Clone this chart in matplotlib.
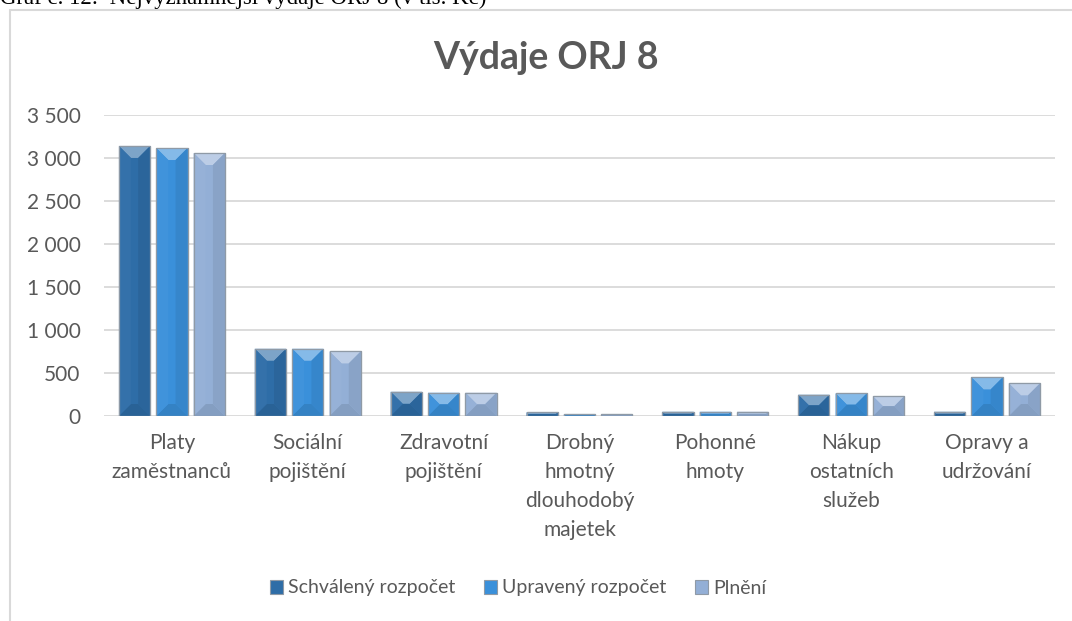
import matplotlib
matplotlib.use("Agg")
import matplotlib.pyplot as plt
from matplotlib.patches import Polygon, Rectangle, Patch
from matplotlib.colors import to_rgb
import numpy as np

categories = ["Platy\nzaměstnanců", "Sociální\npojištění", "Zdravotní\npojištění",
              "Drobný\nhmotný\ndlouhodobý\nmajetek", "Pohonné\nhmoty",
              "Nákup\nostatních\nslužeb", "Opravy a\nudržování"]
schvaleny = [3140, 782, 282, 43, 50, 248, 50]
upraveny = [3116, 782, 271, 20, 50, 263, 449]
plneni = [3058, 751, 271, 20, 50, 229, 380]
series_names = ["Schválený rozpočet", "Upravený rozpočet", "Plnění"]
yticks = [0, 500, 1000, 1500, 2000, 2500, 3000, 3500]

colors = ["#2E6DA7", "#3A90DA", "#93AFD6"]
text_gray = "#595959"
font = ["Lato", "DejaVu Sans"]


def mix(c, target, t):
    c = np.array(to_rgb(c))
    return tuple(c + (np.array(to_rgb(target)) - c) * t)


fig = plt.figure(figsize=(10.72, 6.21), dpi=100)
W, H = 1072, 621

# frame of the chart object and the caption cut by the top edge
fig.patches.append(Rectangle((10 / W, -0.2), 1.2, 1.2 - 10 / H,
                             transform=fig.transFigure, fill=False,
                             edgecolor="#d9d9d9", linewidth=1.5))
fig.text(0.0, 1 - 4 / H, "Graf č. 12:  Nejvýznamnější výdaje ORJ 8 (v tis. Kč)",
         family="Liberation Serif", fontsize=16.5, va="baseline", ha="left", color="black")

ax = fig.add_axes([104 / W, 1 - 416 / H, (1055 - 104) / W, (416 - 115) / H])
x = np.arange(len(categories))
bw = 0.23
gap = 0.045
ax.set_xlim(-0.5, len(categories) - 0.5)
ax.set_ylim(0, 3500)

px_x = 1.0 / 135.9
px_y = 3500 / 301.0
edge = "#8f9aa6"

for i, (vals, col) in enumerate(zip([schvaleny, upraveny, plneni], colors)):
    offs = (i - 1) * (bw + gap)
    bars = ax.bar(x + offs, vals, bw, color=col, edgecolor=edge, linewidth=0.8, zorder=3)
    for b in bars:
        x0, w, h = b.get_x(), b.get_width(), b.get_height()
        x1 = x0 + w
        d_px = min(12, h / px_y / 2)
        dx, dy = d_px * px_x, d_px * px_y
        top = [(x0, h), (x1, h), (x1 - dx, h - dy), (x0 + dx, h - dy)]
        bot = [(x0, 0), (x1, 0), (x1 - dx, dy), (x0 + dx, dy)]
        left = [(x0, 0), (x0, h), (x0 + dx, h - dy), (x0 + dx, dy)]
        right = [(x1, 0), (x1, h), (x1 - dx, h - dy), (x1 - dx, dy)]
        for poly, c in [(top, mix(col, "white", 0.38)), (bot, mix(col, "black", 0.1)),
                        (left, mix(col, "white", 0.03)), (right, mix(col, "black", 0.07))]:
            ax.add_patch(Polygon(poly, closed=True, facecolor=c, edgecolor="none", zorder=4))
        ax.add_patch(Rectangle((x0, 0), w, h, fill=False, edgecolor=edge,
                               linewidth=0.9, zorder=5))

ax.set_yticks(yticks)
ax.set_yticklabels([f"{v:,}".replace(",", " ") for v in yticks])
ax.set_xticks(x)
ax.set_xticklabels(categories, linespacing=1.56)
ax.yaxis.grid(True, color="#d9d9d9", linewidth=1.3, zorder=0)
ax.set_axisbelow(True)
for s in ax.spines.values():
    s.set_visible(False)
ax.tick_params(axis="both", length=0, labelsize=15, colors=text_gray)
ax.tick_params(axis="y", pad=17)
ax.tick_params(axis="x", pad=12.5)
for lab in ax.get_xticklabels() + ax.get_yticklabels():
    lab.set_family(font)
    lab.set_color(text_gray)

fig.text(546 / W, 1 - 58 / H, "Výdaje ORJ 8", family=font, fontweight="bold",
         fontsize=27, color=text_gray, ha="center", va="center")

handles = [Patch(facecolor=c, edgecolor=edge, linewidth=0.8) for c in colors]
fig.legend(handles, series_names, loc="center", bbox_to_anchor=(518 / W, 1 - 588 / H),
           ncol=3, frameon=False, prop={"family": font, "size": 14},
           handlelength=0.7, handleheight=0.7, handletextpad=0.25, columnspacing=1.45,
           labelcolor=text_gray)

fig.savefig("out.png", dpi=100)
